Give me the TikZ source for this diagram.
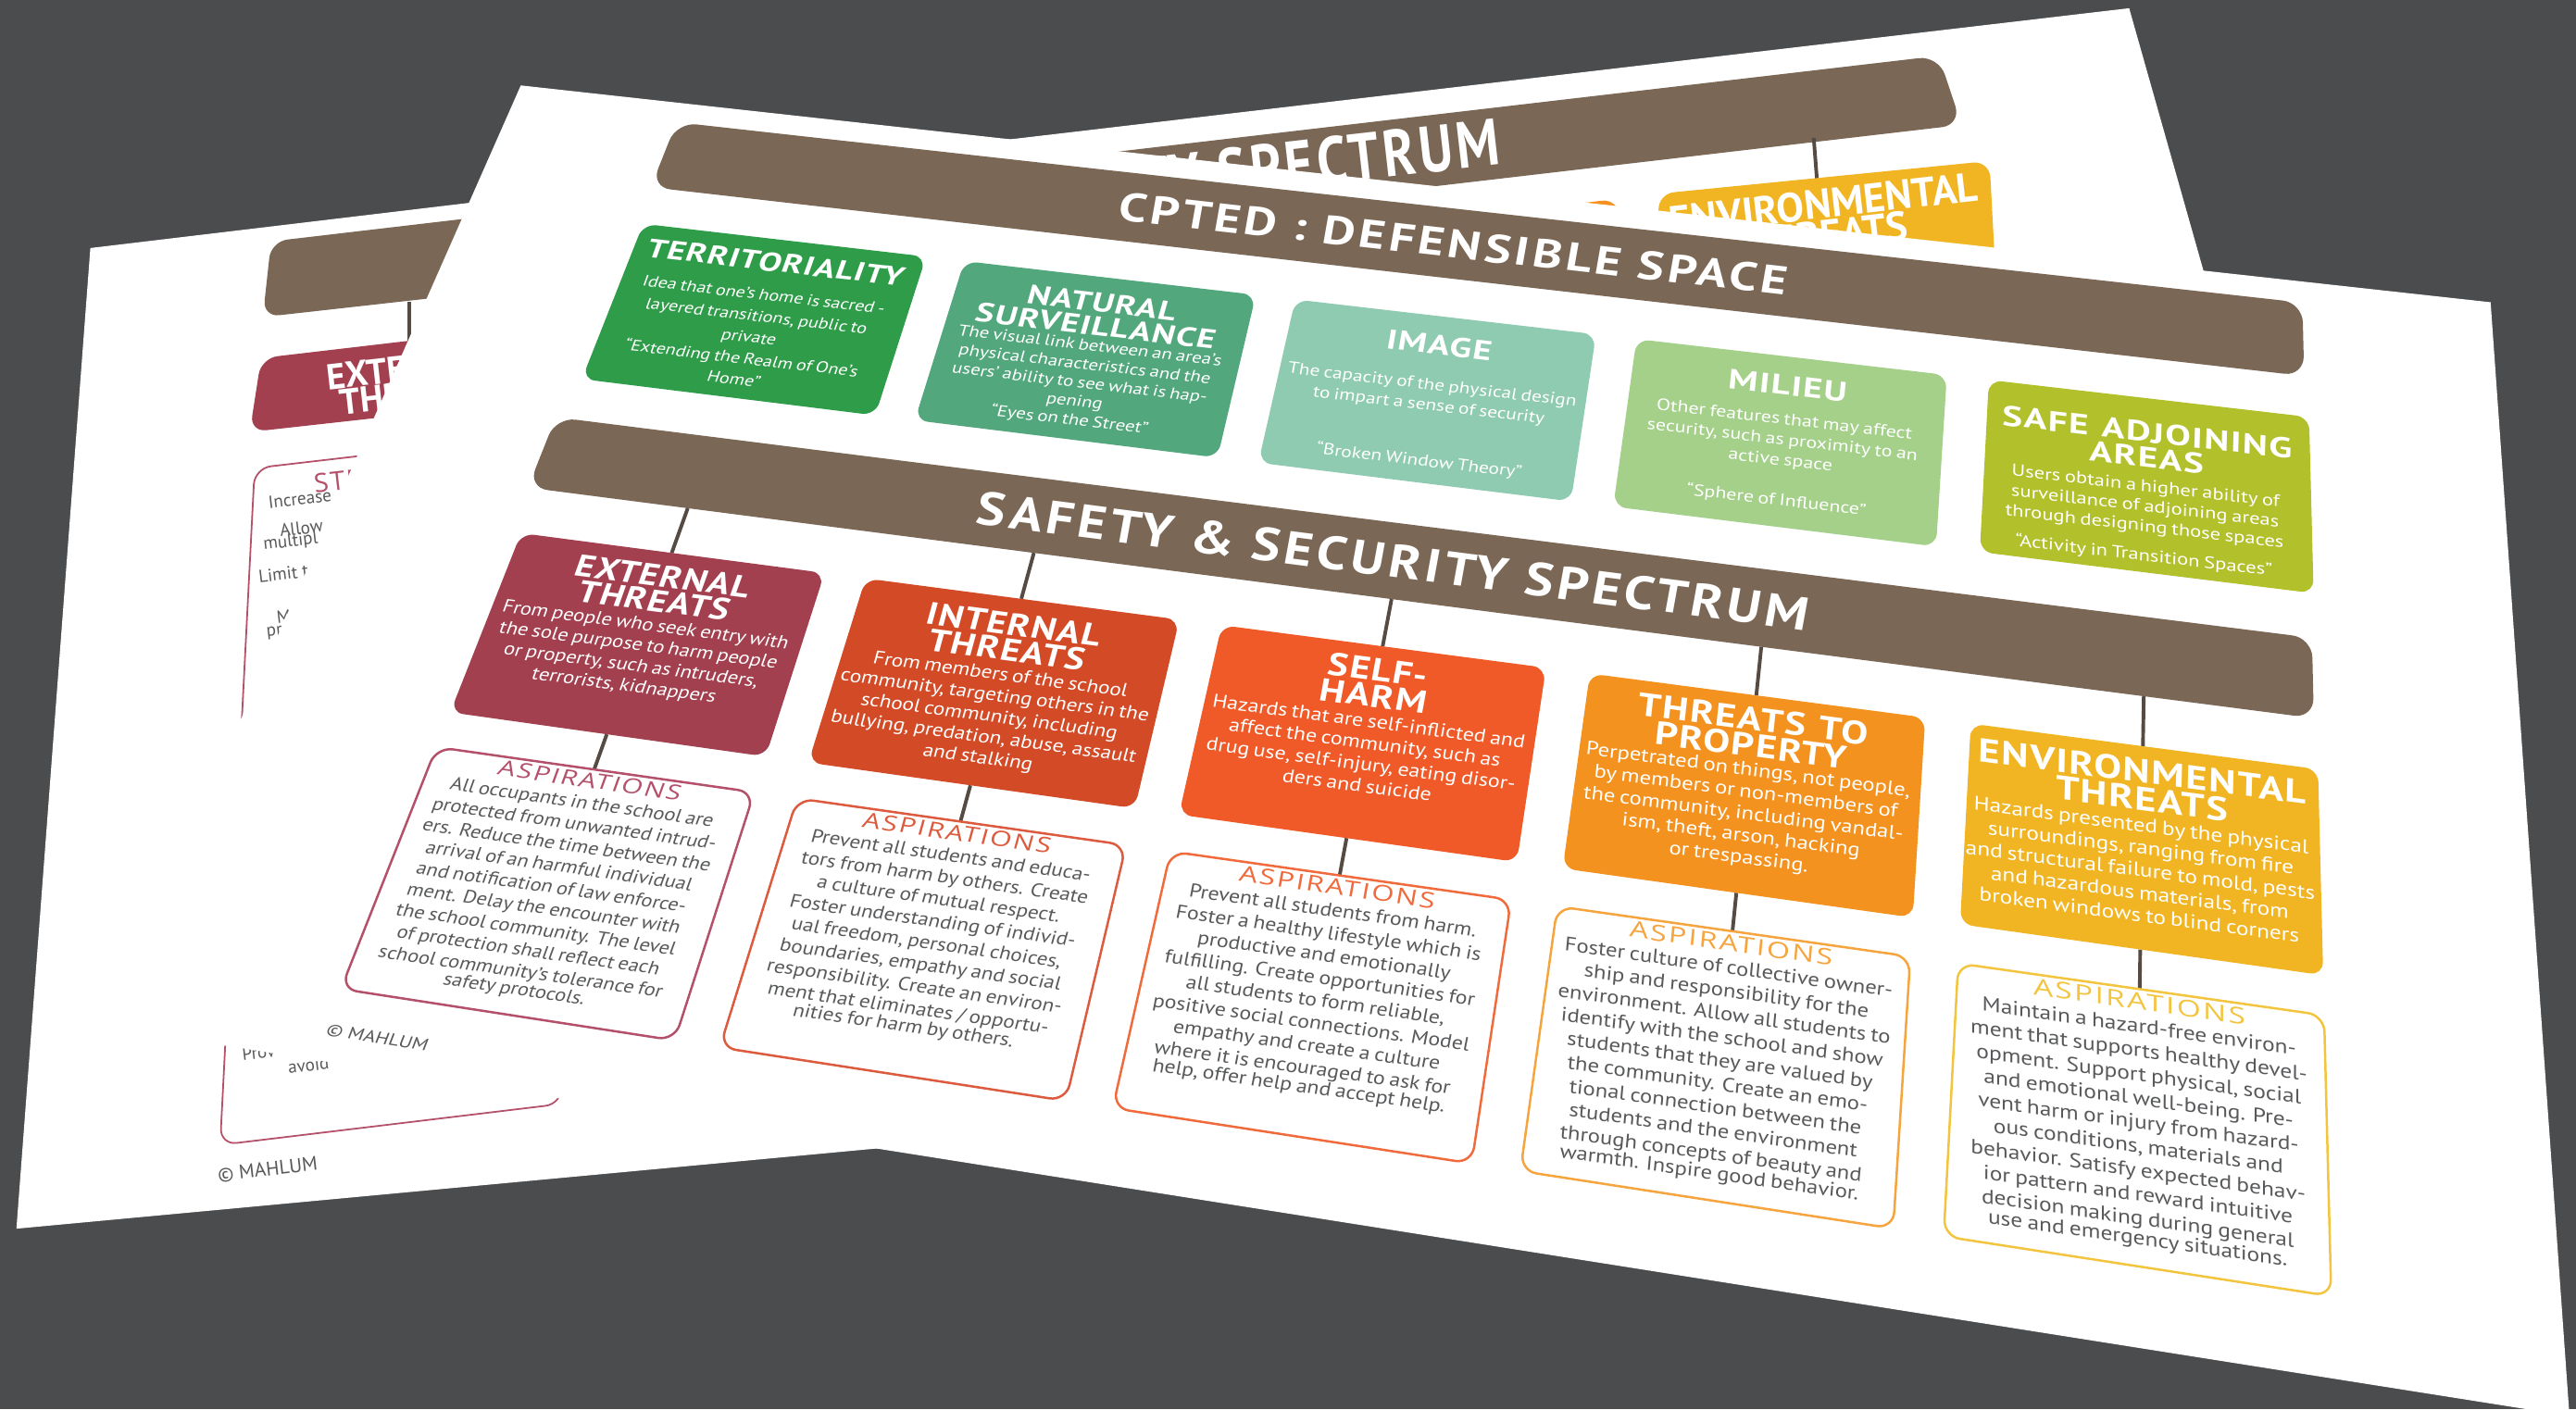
\documentclass[tikz,border=0pt]{standalone}
\usepackage{fontspec}
\setmainfont{PT Sans}
\newfontfamily\condA[FakeStretch=0.82]{PT Sans}
\newfontfamily\condB[FakeStretch=0.85]{PT Sans}
\newfontfamily\condC[FakeStretch=0.88]{PT Sans}
\newfontfamily\titf[LetterSpace=3,FakeStretch=0.88]{PT Sans}
\newfontfamily\barf[LetterSpace=6,FakeStretch=0.82]{PT Sans}
\newfontfamily\aspf[LetterSpace=7]{Open Sans}
\definecolor{bg}{HTML}{4B4C4E}
\definecolor{barbrown}{HTML}{7A6755}
\definecolor{conn}{HTML}{554B43}
\definecolor{cA}{HTML}{2E9C48}
\definecolor{cB}{HTML}{52A77D}
\definecolor{cC}{HTML}{8FCBB0}
\definecolor{cD}{HTML}{A4D08A}
\definecolor{cE}{HTML}{B1C02B}
\definecolor{tA}{HTML}{A3404F}
\definecolor{tB}{HTML}{D34A27}
\definecolor{tC}{HTML}{EF5A28}
\definecolor{tD}{HTML}{F4921F}
\definecolor{tE}{HTML}{F1B523}
\definecolor{hA}{HTML}{B4506A}
\definecolor{hB}{HTML}{DC5A3E}
\definecolor{hC}{HTML}{F06A3C}
\definecolor{hD}{HTML}{F6A43E}
\definecolor{hE}{HTML}{F3C53F}
\definecolor{gtext}{HTML}{58595B}

% homography: poster (X in 0..1700, Y in 0..1100) -> image px
\newcommand\HMap[2]{%
  \pgfmathsetmacro\Hu{(#1)/1700}%
  \pgfmathsetmacro\Hv{(#2)/1100}%
  \pgfmathsetmacro\HD{1-0.085681*\Hu-0.197925*\Hv}%
  \pgfmathsetmacro\HX{(1069.11*\Hu-265.67*\Hv+317)/\HD}%
  \pgfmathsetmacro\HY{(116.23*\Hu+449.30*\Hv+52)/\HD}%
}
\def\Pparse#1,#2\relax{\HMap{#1}{#2}\pgfpointxy{\HX}{\HY}}
\tikzdeclarecoordinatesystem{P}{\Pparse#1\relax}
\newcommand\LFrame[2]{%
  \HMap{#1}{#2}\let\LXo\HX\let\LYo\HY
  \HMap{(#1)+10}{#2}\let\LXa\HX\let\LYa\HY
  \HMap{#1}{(#2)+10}\let\LXb\HX\let\LYb\HY
  \pgfmathsetmacro\La{(\LXa-\LXo)/20}%
  \pgfmathsetmacro\Lb{-(\LYa-\LYo)/20}%
  \pgfmathsetmacro\Lc{-(\LXb-\LXo)/20}%
  \pgfmathsetmacro\Ld{(\LYb-\LYo)/20}%
  \pgfmathsetmacro\Ltx{\LXo*0.5}%
  \pgfmathsetmacro\Lty{-\LYo*0.5}%
}
\newcommand\PText[4]{%
  \LFrame{#1}{#2}%
  \begin{scope}[cm={\La,\Lb,\Lc,\Ld,(\Ltx pt,\Lty pt)}]
    \node[transform shape,#3] at (0pt,0pt) {#4};
  \end{scope}}
\newcommand\PRect[5]{\path[#1] (P cs:#2,#3) -- (P cs:#4,#3) -- (P cs:#4,#5) -- (P cs:#2,#5) -- cycle;}

\tikzset{
  cardtxt/.style={anchor=north,inner sep=0pt,align=center,text width=340pt,text=white},
  asptxt/.style={anchor=north,inner sep=0pt,align=center,text width=340pt,text=gtext},
  asphead/.style={anchor=center,inner sep=0pt,font=\aspf\fontsize{21}{21}\selectfont},
  link/.style={draw=conn,line width=1.1pt},
  backtxt/.style={rotate=6.5,inner sep=0pt},
}
\newcommand\tone{\titf\bfseries\fontsize{34}{30}\selectfont}
\newcommand\bone[1]{\condA\fontsize{20}{#1}\selectfont}
\newcommand\ttwo{\titf\bfseries\fontsize{34}{28}\selectfont}
\newcommand\btwo{\condB\fontsize{20}{23}\selectfont}
\newcommand\basp{\condC\fontsize{18.3}{21.8}\selectfont}
\newcommand\wsp{\hspace{0.3em}}

\begin{document}
\begin{tikzpicture}[x=0.5pt,y=-0.5pt]
\useasboundingbox (0,0) rectangle (1568,858);
\fill[bg] (0,0) rectangle (1568,858);

%% ---------- back-left sheet ----------
\fill[white] (55,151) -- (340,117) -- (600,693) -- (10,748) -- cycle;
\fill[barbrown, rounded corners=5pt] (165,147) -- (310,130) -- (312,176) -- (160,193) -- cycle;
\draw[link] (249,184) -- (249,212);
\fill[tA, rounded corners=5pt] (159,218) -- (330,198) -- (332,243) -- (152,263) -- cycle;
\node[backtxt, text=white, font=\bfseries\fontsize{11}{11}\selectfont] (blt1) at (249,224) {EXTERNAL};
\node[backtxt, text=white, font=\bfseries\fontsize{11}{11}\selectfont] (blt2) at (250,240) {THREATS};
\draw[hA, line width=0.5pt, fill=white, rounded corners=5pt] (155,285) -- (345,263) -- (342,672) -- (134,697) -- cycle;
\node[backtxt, text=hA, font=\aspf\fontsize{8}{8}\selectfont] (bls) at (240,289) {STRATEGIES};
\begin{scope}[every node/.style={backtxt, anchor=west, text=gtext, font=\fontsize{5.4}{5.4}\selectfont}]
\node (f1) at (163,306) {Increase};
\node (f2) at (170,323) {Allow};
\node (f3) at (160,332) {multipl};
\node (f4) at (157,351) {Limit t};
\node (f5) at (168,376) {M};
\node (f6) at (162,386) {pr};
\node (f7) at (163,403) {I};
\node (f8) at (147,642) {Prov};
\node (f9) at (175,650) {avoid};
\end{scope}
\node[backtxt, text=gtext, font=\fontsize{6}{6}\selectfont] (blc) at (163,712) {© MAHLUM};

%% ---------- back-right sheet ----------
\fill[white] (400,110) -- (1296,5) -- (1341,164) -- (1388,330) -- (450,330) -- cycle;
\fill[barbrown, rounded corners=6pt] (640,97) -- (1180,34) -- (1194,76) -- (645,140) -- cycle;
\node[backtxt, anchor=east, text=white, font=\barf\bfseries\fontsize{20}{20}\selectfont] (brt) at (913,86) {SAFETY \& SECURITY SPECTRUM};
\draw[link] (1104,84) -- (1106,110);
\fill[tD, rounded corners=5pt] (800,143) -- (985,121) -- (990,200) -- (805,222) -- cycle;
\fill[tE, rounded corners=5pt] (1009,118) -- (1211,98) -- (1218,230) -- (1016,250) -- cycle;
\node[backtxt, text=white, font=\bfseries\fontsize{12.5}{12.5}\selectfont] (bre1) at (1110,124) {ENVIRONMENTAL};
\node[backtxt, text=white, font=\bfseries\fontsize{12.5}{12.5}\selectfont] (bre2) at (1112,143) {THREATS};

%% ---------- main sheet ----------
\fill[white] (317,52) -- (1516,184) -- (1564,862) -- (64,625) -- cycle;

% bars
\PRect{fill=barbrown, rounded corners=6pt}{153}{27}{1550}{118}
\PRect{fill=barbrown, rounded corners=6pt}{150}{418}{1551}{503}
\PText{852}{73}{name=barA, anchor=center, inner sep=0pt, text=white, font=\barf\bfseries\fontsize{52}{52}\selectfont}{CPTED : DEFENSIBLE SPACE}
\PText{852}{461}{name=barB, anchor=center, inner sep=0pt, text=white, font=\barf\bfseries\fontsize{52}{52}\selectfont}{SAFETY \& SECURITY SPECTRUM}

% row 1 cards
\PRect{fill=cA, rounded corners=4pt}{159}{167}{411}{369}
\PRect{fill=cB, rounded corners=4pt}{444.5}{167}{696.5}{369}
\PRect{fill=cC, rounded corners=4pt}{730}{167}{982}{369}
\PRect{fill=cD, rounded corners=4pt}{1015.5}{167}{1267.5}{369}
\PRect{fill=cE, rounded corners=4pt}{1301}{167}{1553}{369}

\PText{285}{184}{cardtxt, name=r1a}{{\tone TERRITORIALITY\par}\vspace{10pt}{\bone{28} Idea that one’s home is sacred -\\layered transitions, public to\\private\\“Extending the Realm of One’s\\Home”\par}}
\PText{570.5}{187}{cardtxt, name=r1b}{{\tone NATURAL\\SURVEILLANCE\par}\vspace{-4pt}{\bone{24} The visual link between an area’s\\physical characteristics and the\\users’ ability to see what is hap-\\pening\\“Eyes on the Street”\par}}
\PText{856}{190}{cardtxt, name=r1c}{{\tone IMAGE\par}\vspace{19pt}{\bone{25.5} The capacity of the physical design\\to impart a sense of security\\[44pt]“Broken Window Theory”\par}}
\PText{1141.5}{190}{cardtxt, name=r1d}{{\tone MILIEU\par}\vspace{11pt}{\bone{25} Other features that may affect\\security, such as proximity to an\\active space\\[24pt]“Sphere of Influence”\par}}
\PText{1427}{195}{cardtxt, name=r1e}{{\tone SAFE\wsp ADJOINING\\AREAS\par}\vspace{5pt}{\bone{24} Users obtain a higher ability of\\surveillance of adjoining areas\\through designing those spaces\\[11pt]“Activity in Transition Spaces”\par}}

% connectors
\foreach \xc in {285,570.5,856,1141.5,1427}{
  \draw[link] (P cs:\xc,503) -- (P cs:\xc,555);
  \draw[link] (P cs:\xc,755) -- (P cs:\xc,792);
}

% row 2 cards
\PRect{fill=tA, rounded corners=4pt}{159}{555}{411}{755}
\PRect{fill=tB, rounded corners=4pt}{444.5}{555}{696.5}{755}
\PRect{fill=tC, rounded corners=4pt}{730}{555}{982}{755}
\PRect{fill=tD, rounded corners=4pt}{1015.5}{555}{1267.5}{755}
\PRect{fill=tE, rounded corners=4pt}{1301}{555}{1553}{755}

\PText{285}{569}{cardtxt, name=r2a}{{\ttwo EXTERNAL\\THREATS\par}\vspace{-1pt}{\btwo From people who seek entry with\\the sole purpose to harm people\\or property, such as intruders,\\terrorists, kidnappers\par}}
\PText{570.5}{571}{cardtxt, name=r2b}{{\ttwo INTERNAL\\THREATS\par}\vspace{-1pt}{\btwo From members of the school\\community, targeting others in the\\school community, including\\bullying, predation, abuse, assault\\and stalking\par}}
\PText{856}{568}{cardtxt, name=r2c}{{\ttwo SELF-\\HARM\par}\vspace{-1pt}{\btwo Hazards that are self-inflicted and\\affect the community, such as\\drug use, self-injury, eating disor-\\ders and suicide\par}}
\PText{1141.5}{567}{cardtxt, name=r2d}{{\ttwo THREATS\wsp TO\\PROPERTY\par}\vspace{-3pt}{\btwo Perpetrated on things, not people,\\by members or non-members of\\the community, including vandal-\\ism, theft, arson, hacking\\or trespassing.\par}}
\PText{1427}{568}{cardtxt, name=r2e}{{\ttwo ENVIRONMENTAL\\THREATS\par}\vspace{-1pt}{\btwo Hazards presented by the physical\\surroundings, ranging from fire\\and structural failure to mold, pests\\and hazardous materials,  from\\broken windows to blind corners\par}}

% aspirations
\PRect{draw=hA, fill=white, line width=0.7pt, rounded corners=5pt}{159}{792}{411}{1034}
\PRect{draw=hB, fill=white, line width=0.7pt, rounded corners=5pt}{444.5}{792}{696.5}{1034}
\PRect{draw=hC, fill=white, line width=0.7pt, rounded corners=5pt}{730}{792}{982}{1034}
\PRect{draw=hD, fill=white, line width=0.7pt, rounded corners=5pt}{1015.5}{792}{1267.5}{1034}
\PRect{draw=hE, fill=white, line width=0.7pt, rounded corners=5pt}{1301}{792}{1553}{1034}

\foreach \xc/\hc/\nm in {285/hA/a,570.5/hB/b,856/hC/c,1141.5/hD/d,1427/hE/e}{
  \PText{\xc}{803.5}{asphead, text=\hc, name=ah\nm}{ASPIRATIONS}
}
\PText{285}{819}{asptxt, name=asa}{\basp All occupants in the school are\\protected from unwanted intrud-\\ers. Reduce the time between the\\arrival of an harmful individual\\and notification of law enforce-\\ment. Delay the encounter with\\the school community.  The level\\of protection shall reflect each\\school community’s tolerance for\\safety protocols.}
\PText{570.5}{819}{asptxt, name=asb}{\basp Prevent all students and educa-\\tors from harm by others. Create\\a culture of mutual respect.\\Foster  understanding of individ-\\ual freedom, personal choices,\\boundaries, empathy and social\\responsibility.  Create an environ-\\ment that eliminates / opportu-\\nities for harm by others.}
\PText{856}{819}{asptxt, name=asc}{\basp Prevent all students from harm.\\Foster a healthy lifestyle which is\\productive and emotionally\\fulfilling. Create opportunities for\\all students to form reliable,\\positive social connections. Model\\empathy and create a culture\\where it is encouraged to ask for\\help, offer help and accept help.}
\PText{1141.5}{819}{asptxt, name=asd}{\basp Foster culture of collective owner-\\ship and responsibility for the\\environment.  Allow all students to\\identify with the school and show\\students that they are valued by\\the community.  Create an emo-\\tional connection between the\\students and the environment\\through concepts of beauty and\\warmth. Inspire good behavior.}
\PText{1427}{819}{asptxt, name=ase}{\basp Maintain a hazard-free environ-\\ment that supports healthy devel-\\opment.  Support physical, social\\and emotional well-being.   Pre-\\vent harm or injury from hazard-\\ous conditions, materials and\\behavior.  Satisfy expected behav-\\ior pattern and reward intuitive\\decision making during general\\use and emergency situations.}

\PText{199}{1072}{name=copy, anchor=center, inner sep=0pt, text=gtext, font=\fontsize{15}{15}\selectfont}{© MAHLUM}
\end{tikzpicture}
\end{document}
